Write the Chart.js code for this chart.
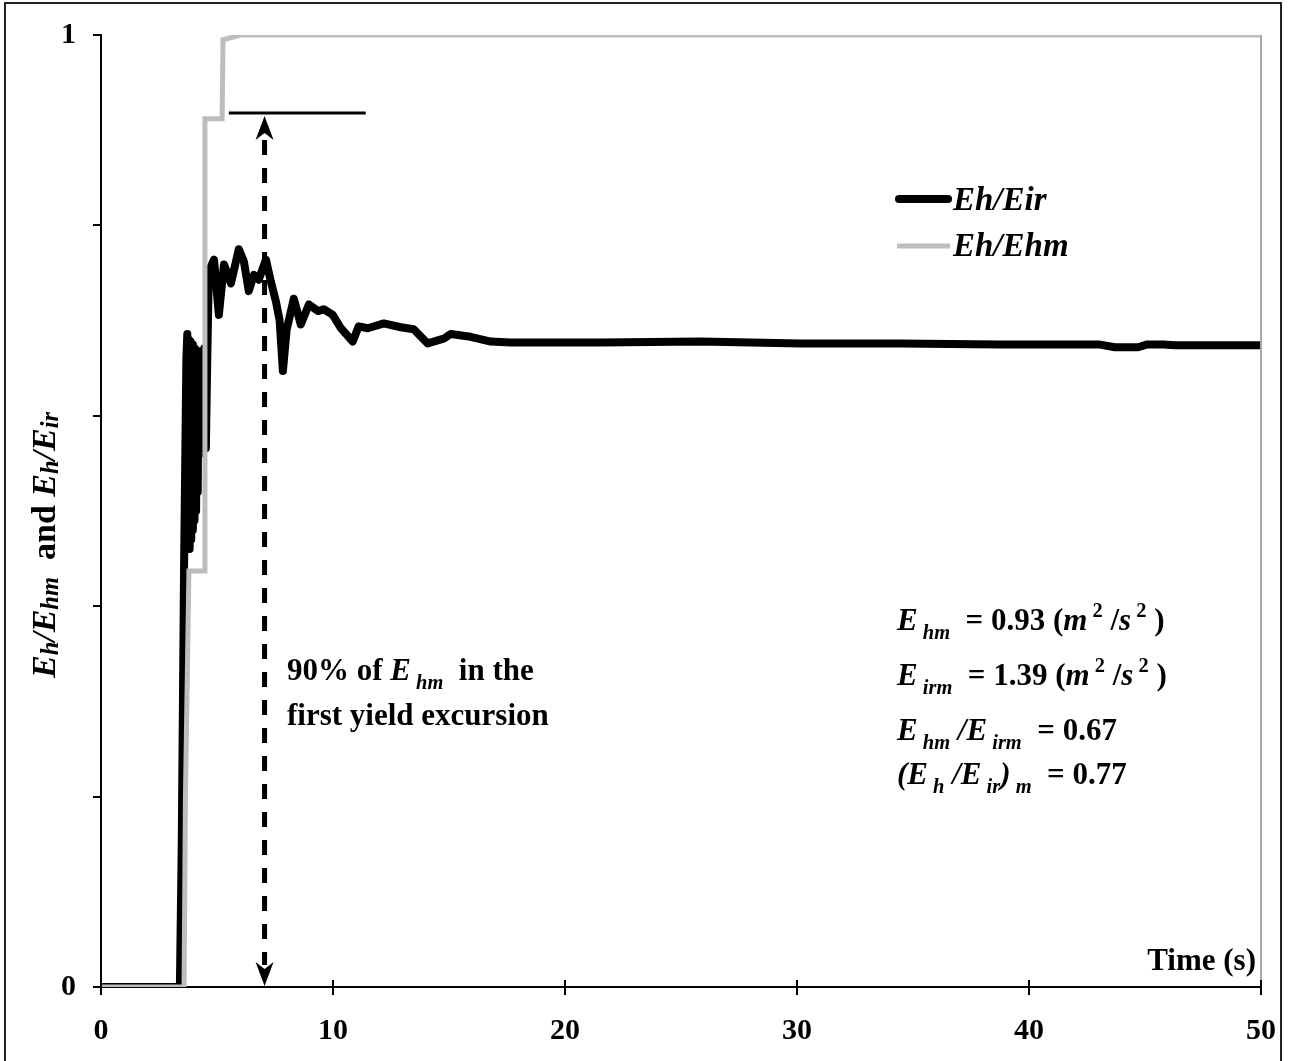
<!DOCTYPE html>
<html><head><meta charset="utf-8">
<script src="https://cdn.jsdelivr.net/npm/chart.js@4.4.1/dist/chart.umd.min.js"></script>
<style>html,body{margin:0;padding:0;background:#fff}#wrap{width:1289px;height:1061px;position:relative}</style>
</head><body><div id="wrap"><canvas id="c"></canvas></div>
<script>
// ---- data (time in s, normalized energy) ----
const eirTime  = [0,3.40,3.48,3.58,3.63,3.68,3.72,3.75,3.79,3.82,3.86,3.89,3.93,3.96,4.00,4.03,4.07,4.10,4.14,4.17,4.21,4.26,4.30,4.38,4.45,4.52,4.58,4.65,4.87,5.08,5.30,5.60,5.94,6.16,6.37,6.59,6.80,7.11,7.32,7.54,7.70,7.84,8.00,8.31,8.61,8.96,9.35,9.60,9.99,10.34,10.85,11.11,11.50,12.19,12.92,13.48,14.08,14.77,15.07,15.93,16.80,17.66,21.53,25.84,30.15,34.45,38.76,43.0,43.7,44.7,45.1,45.8,46.3,50];
const eirValue = [0,0,0.15,0.44,0.55,0.66,0.686,0.47,0.68,0.46,0.678,0.47,0.675,0.48,0.672,0.49,0.67,0.50,0.668,0.52,0.665,0.56,0.665,0.60,0.671,0.566,0.66,0.752,0.764,0.706,0.759,0.739,0.775,0.762,0.731,0.748,0.743,0.764,0.741,0.720,0.700,0.647,0.690,0.723,0.696,0.717,0.710,0.712,0.706,0.692,0.678,0.694,0.692,0.697,0.693,0.691,0.676,0.681,0.686,0.683,0.678,0.677,0.677,0.678,0.676,0.676,0.675,0.675,0.672,0.672,0.675,0.675,0.674,0.674];
const ehmTime  = [0,3.58,3.64,3.79,4.44,4.48,5.22,5.26,6.0,50];
const ehmValue = [0,0,0.20,0.437,0.437,0.912,0.912,0.995,1,1];
const seriesNames = ['Eh/Eir','Eh/Ehm'];
const xTickValues = [0,10,20,30,40,50];
const yLabelledTicks = [0,1];
const barLevel = 0.918, barStart = 5.51, barEnd = 11.41, arrowTime = 7.05;

const FONT = '"Liberation Serif", "Times New Roman", serif';
function segFont(f,size){const sz=(f.includes('s')||f.includes('p'))?size*0.66:(f.includes('m')?size*0.72:size);return (f.includes('i')?'italic ':'')+'bold '+sz+'px '+FONT;}
function segDy(f,size){return f.includes('s')?size*0.28:(f.includes('p')?-size*0.42:(f.includes('m')?size*0.1:0));}
function richWidth(ctx,segs,size){let w=0;for(const [t,f] of segs){ctx.font=segFont(f,size);w+=ctx.measureText(t).width;}return w;}
function drawRich(ctx,x,y,segs,size){ctx.textBaseline='alphabetic';ctx.textAlign='left';let cx=x;for(const [t,f] of segs){ctx.font=segFont(f,size);ctx.fillText(t,cx,y+segDy(f,size));cx+=ctx.measureText(t).width;}return cx-x;}

const toPts=(ts,vs)=>ts.map((t,i)=>({x:t,y:vs[i]}));

const deco = {
  id:'deco',
  afterDatasetsDraw(chart){
    const ctx=chart.ctx, xs=chart.scales.x, ys=chart.scales.y, a=chart.chartArea;
    ctx.save();
    ctx.fillStyle='#000';ctx.strokeStyle='#000';
    // plot right border (gray)
    ctx.strokeStyle='#a8a8a8';ctx.lineWidth=2;
    ctx.beginPath();ctx.moveTo(a.right,a.top);ctx.lineTo(a.right,a.bottom);ctx.stroke();
    // inner half of x ticks (ticks cross the axis)
    ctx.strokeStyle='#000';ctx.lineWidth=2;
    for(const v of xTickValues){const px=xs.getPixelForValue(v);ctx.beginPath();ctx.moveTo(px,a.bottom-7);ctx.lineTo(px,a.bottom);ctx.stroke();}
    // outer frame
    ctx.strokeStyle='#222';ctx.lineWidth=2;
    ctx.beginPath();ctx.moveTo(5,1061);ctx.lineTo(5,3);ctx.lineTo(1281,3);ctx.lineTo(1281,1061);ctx.stroke();
    // horizontal 90% bar
    const yb=ys.getPixelForValue(barLevel);
    ctx.strokeStyle='#000';ctx.lineWidth=3;
    ctx.beginPath();ctx.moveTo(xs.getPixelForValue(barStart),yb);ctx.lineTo(xs.getPixelForValue(barEnd),yb);ctx.stroke();
    // dashed double arrow
    const xa=xs.getPixelForValue(arrowTime), y0=ys.getPixelForValue(0), yt=yb+3;
    ctx.lineWidth=5;ctx.setLineDash([15,13]);
    ctx.beginPath();ctx.moveTo(xa,yt+24);ctx.lineTo(xa,y0-22);ctx.stroke();
    ctx.setLineDash([]);
    function head(tx,ty,d){ctx.beginPath();ctx.moveTo(tx,ty);ctx.lineTo(tx-9,ty+d*24);ctx.lineTo(tx,ty+d*17);ctx.lineTo(tx+9,ty+d*24);ctx.closePath();ctx.fill();}
    head(xa,yt,1);head(xa,y0-1,-1);
    // legend
    ctx.lineCap='round';
    ctx.strokeStyle='#000';ctx.lineWidth=8;ctx.beginPath();ctx.moveTo(899,199);ctx.lineTo(948,199);ctx.stroke();
    ctx.lineCap='butt';
    ctx.strokeStyle='#bdbdbd';ctx.lineWidth=5;ctx.beginPath();ctx.moveTo(897,246);ctx.lineTo(950,246);ctx.stroke();
    drawRich(ctx,953,210,[[seriesNames[0],'i']],33);
    drawRich(ctx,953,256,[[seriesNames[1],'i']],33);
    // 90% text
    drawRich(ctx,287,680,[['90% of ',''],['E','i'],[' hm','is'],['  in the','']],31);
    drawRich(ctx,287,725,[['first yield excursion','']],31);
    // right block
    const S=31;
    drawRich(ctx,897,630,[['E','i'],[' hm','is'],['  = 0.93 (',''],['m','i'],[' 2','p'],[' /',''],['s','i'],[' 2','p'],[' )','']],S);
    drawRich(ctx,897,685,[['E','i'],[' irm','is'],['  = 1.39 (',''],['m','i'],[' 2','p'],[' /',''],['s','i'],[' 2','p'],[' )','']],S);
    drawRich(ctx,897,740,[['E','i'],[' hm','is'],[' /E','i'],[' irm','is'],['  = 0.67','']],S);
    drawRich(ctx,897,784,[['(E','i'],[' h','is'],[' /E','i'],[' ir','is'],[')','i'],[' m','is'],['  = 0.77','']],S);
    // x axis title
    ctx.font='bold 31px '+FONT;ctx.textAlign='right';ctx.textBaseline='alphabetic';
    ctx.fillText('Time (s)',1256,970);
    // y axis title
    const ys1=[['E','i'],['h','im'],['/E','i'],['hm','im'],['  and ',''],['E','i'],['h','im'],['/E','i'],['ir','im']];
    const w=richWidth(ctx,ys1,34);
    ctx.translate(55,545);ctx.rotate(-Math.PI/2);
    drawRich(ctx,-w/2,0,ys1,34);
    ctx.restore();
  }
};

new Chart(document.getElementById('c'),{
  type:'line',
  data:{datasets:[
    {label:seriesNames[1],data:toPts(ehmTime,ehmValue),borderColor:'#bdbdbd',borderWidth:5,pointRadius:0,tension:0,order:0},
    {label:seriesNames[0],data:toPts(eirTime,eirValue),borderColor:'#000',borderWidth:8,pointRadius:0,tension:0,borderJoinStyle:'round',borderCapStyle:'round',order:1}
  ]},
  options:{
    responsive:true,maintainAspectRatio:false,animation:false,
    layout:{padding:{top:33,right:28,left:0,bottom:0}},
    plugins:{legend:{display:false},tooltip:{enabled:false}},
    scales:{
      x:{type:'linear',min:0,max:50,
        afterBuildTicks(s){s.ticks=xTickValues.map(v=>({value:v}));},
        afterFit(s){s.height=74;},
        ticks:{font:{family:FONT,size:30,weight:'bold',lineHeight:1.6},color:'#000',padding:12,maxRotation:0},
        grid:{drawOnChartArea:false,drawTicks:true,tickLength:8,color:'#000',lineWidth:2},
        border:{display:true,color:'#000',width:2}},
      y:{type:'linear',min:0,max:1,
        ticks:{stepSize:0.2,font:{family:FONT,size:30,weight:'bold'},color:'#000',padding:17,
          callback:v=>yLabelledTicks.some(t=>Math.abs(t-v)<1e-9)?String(Math.round(v)):''},
        afterFit(s){s.width=101;},
        grid:{drawOnChartArea:false,drawTicks:true,tickLength:8,color:'#000',lineWidth:2},
        border:{display:true,color:'#000',width:2}}
    }
  },
  plugins:[deco]
});
</script></body></html>
